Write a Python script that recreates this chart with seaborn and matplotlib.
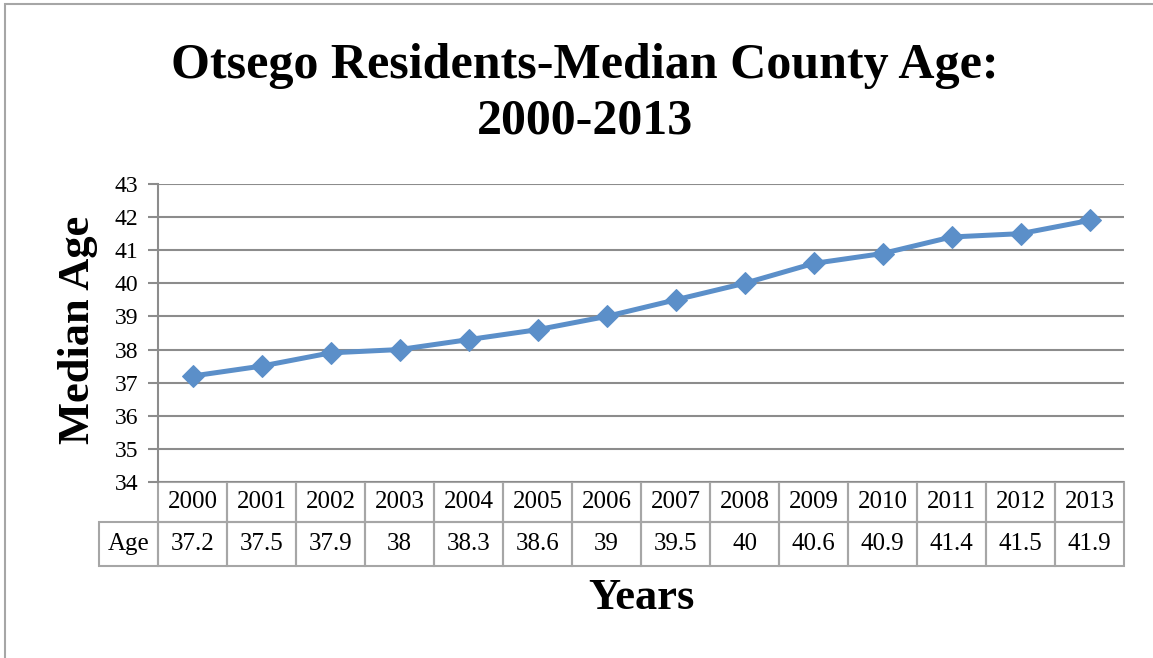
import matplotlib
matplotlib.use("Agg")
import matplotlib.pyplot as plt
import seaborn as sns
import pandas as pd
from matplotlib.table import Table
from matplotlib.patches import Rectangle

years = ["2000", "2001", "2002", "2003", "2004", "2005", "2006",
         "2007", "2008", "2009", "2010", "2011", "2012", "2013"]
ages = [37.2, 37.5, 37.9, 38, 38.3, 38.6, 39, 39.5, 40, 40.6, 40.9, 41.4, 41.5, 41.9]
age_labels = ["37.2", "37.5", "37.9", "38", "38.3", "38.6", "39", "39.5",
              "40", "40.6", "40.9", "41.4", "41.5", "41.9"]
yticks = [34, 35, 36, 37, 38, 39, 40, 41, 42, 43]

sns.set_theme(style="white")
plt.rcParams['font.family'] = ['Liberation Serif', 'DejaVu Serif']
plt.rcParams['text.color'] = 'black'
plt.rcParams['ytick.color'] = 'black'

W, H = 1153, 658
fig = plt.figure(figsize=(W / 100, H / 100), dpi=100)
fig.patch.set_facecolor("white")

# outer chart border
fig.patches.append(Rectangle((5 / W, -0.01), 1.2, 1 - 4 / H + 0.01, transform=fig.transFigure,
                             fill=False, edgecolor="#a6a6a6", linewidth=1.5))

ax = fig.add_axes([158 / W, 1 - 482 / H, 966 / W, 298 / H])
df = pd.DataFrame({"pos": range(len(years)), "age": ages})
color = "#5B8FC9"
sns.lineplot(data=df, x="pos", y="age", ax=ax, color=color, linewidth=3.6,
             marker="D", markersize=11, markeredgecolor=color, markerfacecolor=color)

ax.set_xlim(-0.5, len(years) - 0.5)
ax.set_ylim(34, 43)
ax.set_yticks(yticks)
ax.set_yticklabels([str(t) for t in yticks], fontsize=17, color="black")
ax.set_xticks([])
ax.grid(axis="y", color="#8c8c8c", linewidth=1.5)
ax.set_axisbelow(True)
for s in ["top", "right", "bottom"]:
    ax.spines[s].set_visible(False)
ax.spines["left"].set_color("#8c8c8c")
ax.spines["left"].set_linewidth(1.5)
ax.tick_params(axis="y", direction="out", length=7, width=1.5, color="#8c8c8c",
               pad=7, left=True, labelcolor="black")
ax.set_xlabel("")
ax.set_ylabel("")

# data table
tab = Table(ax, bbox=[-59 / 966, -84 / 298, 1 + 59 / 966, 84 / 298])
colw = [59] + [69] * len(years)
rowh = [40, 44]
edge = "#a6a6a6"
for j, label in enumerate([""] + years):
    c = tab.add_cell(0, j, width=colw[j], height=rowh[0], text=label, loc="center",
                     edgecolor=edge, facecolor="none")
    c.get_text().set_fontsize(18)
    c.get_text().set_color("black")
    c.set_linewidth(1.5)
    if j == 0:
        c.visible_edges = ""
for j, label in enumerate(["Age"] + age_labels):
    c = tab.add_cell(1, j, width=colw[j], height=rowh[1], text=label, loc="center",
                     edgecolor=edge, facecolor="none")
    c.get_text().set_fontsize(18)
    c.get_text().set_color("black")
    c.set_linewidth(1.5)
tab.auto_set_font_size(False)
tab.set_clip_on(False)
ax.add_table(tab)

fig.text(585 / W, 1 - 66 / H, "Otsego Residents-Median County Age:", ha="center", va="center",
         fontsize=36, fontweight="bold", color="black")
fig.text(585 / W, 1 - 121 / H, "2000-2013", ha="center", va="center",
         fontsize=36, fontweight="bold", color="black")
fig.text(78 / W, 1 - 330 / H, "Median Age", ha="center", va="center", rotation=90,
         fontsize=32, fontweight="bold", color="black")
fig.text(641 / W, 1 - 598 / H, "Years", ha="center", va="center",
         fontsize=32, fontweight="bold", color="black")

fig.savefig("out.png", dpi=100)
